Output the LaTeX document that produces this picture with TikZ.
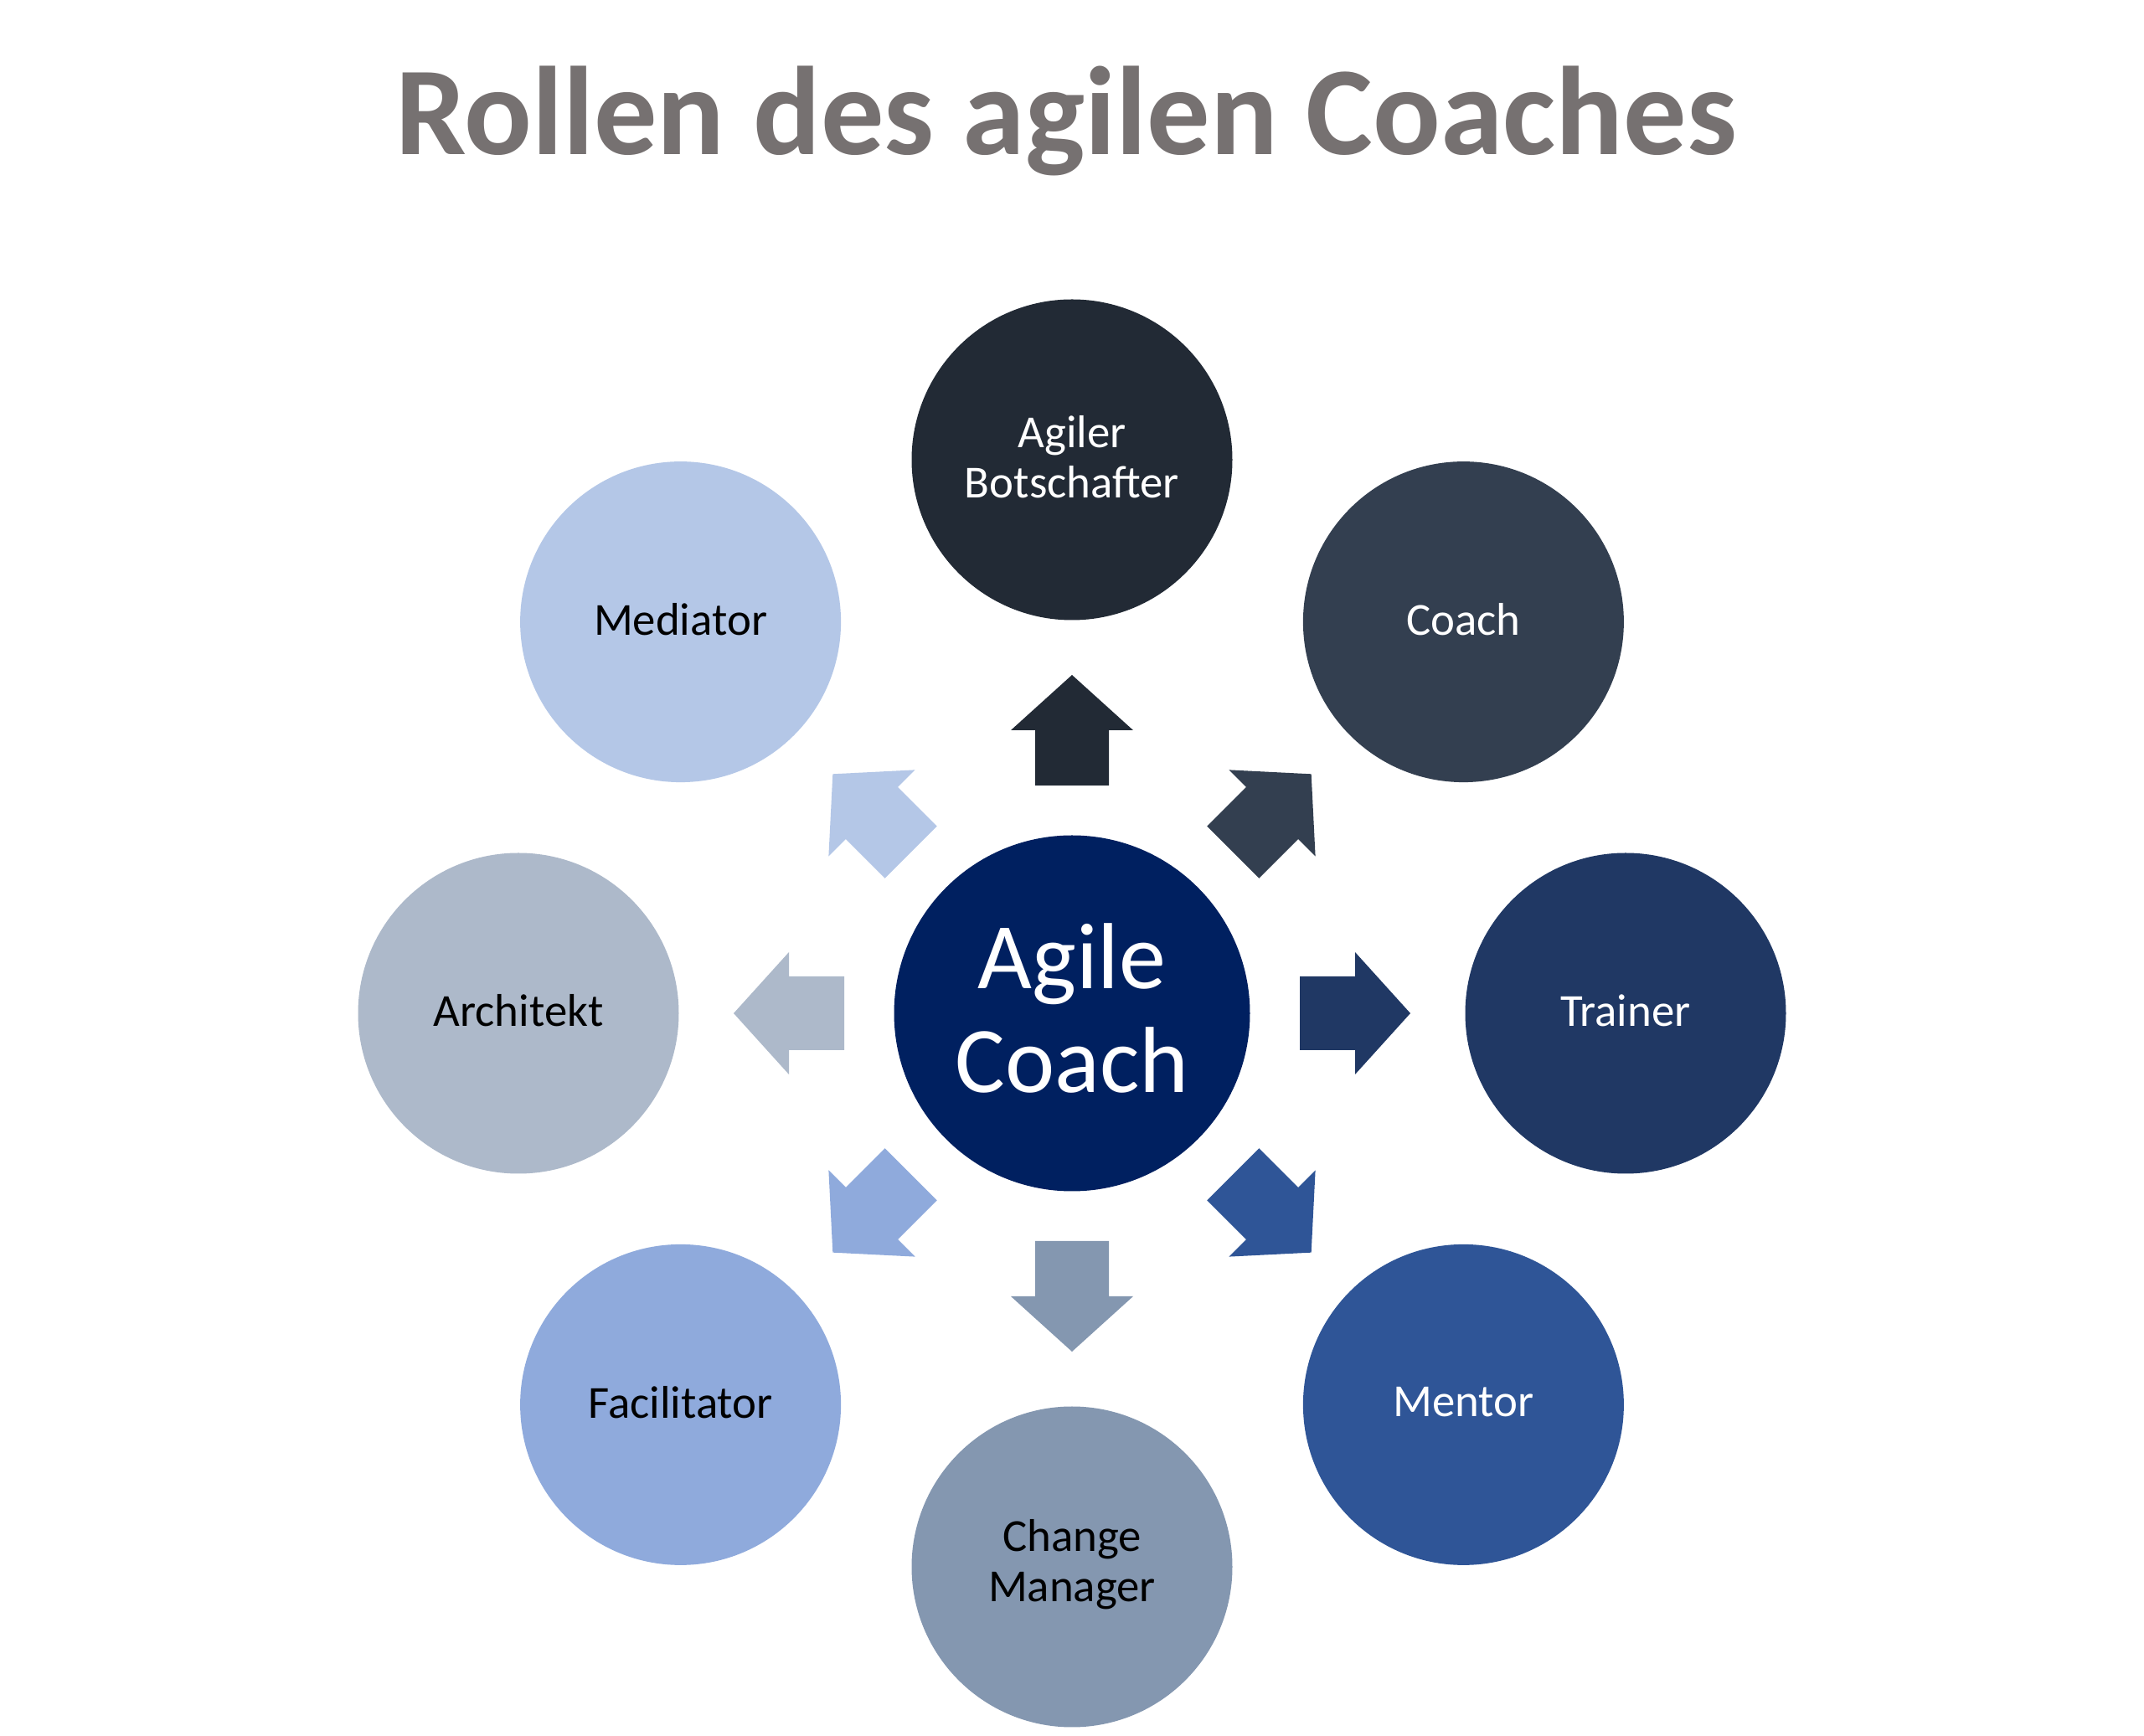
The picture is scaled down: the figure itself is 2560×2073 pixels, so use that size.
\documentclass[tikz,border=0pt]{standalone}
\usepackage{fontspec}
\setmainfont{Carlito}
\definecolor{cCenter}{HTML}{002060}
\definecolor{cBot}{HTML}{222A35}
\definecolor{cCoach}{HTML}{333F50}
\definecolor{cTrainer}{HTML}{203864}
\definecolor{cMentor}{HTML}{2F5597}
\definecolor{cChange}{HTML}{8497B0}
\definecolor{cFacil}{HTML}{8FAADC}
\definecolor{cArch}{HTML}{ADB9CA}
\definecolor{cMed}{HTML}{B4C7E7}
\definecolor{cTitle}{HTML}{767171}
\begin{document}
\begin{tikzpicture}[x=0.1mm,y=0.1mm,
  role/.style={circle,minimum size=38.3mm,inner sep=0pt,align=center,
    font=\fontsize{15.6pt}{17.1pt}\selectfont},
  hub/.style={circle,minimum size=42.5mm,inner sep=0pt,align=center,fill=cCenter,text=white,
    font=\fontsize{31.9pt}{35.3pt}\selectfont},
  titlestyle/.style={anchor=base,inner sep=0pt,text=cTitle,font=\fontsize{42.8pt}{48pt}\selectfont\bfseries}]
\useasboundingbox[fill=white] (0,0) rectangle (2560,2073);
\node[titlestyle] (title) at (1273,1888) {Rollen des agilen Coaches};
\node[hub] (hub) at (1280,863) {};
\node[inner sep=0pt,align=center,text=white,font=\fontsize{31.9pt}{35.3pt}\selectfont] (hublabel) at ([yshift=0.6mm]hub.center) {Agile\\Coach};
\foreach \a/\nm/\col/\tc/\lab in {
  90/bot/cBot/white/{Agiler\\Botschafter},
  45/coach/cCoach/white/{Coach},
  0/trainer/cTrainer/white/{Trainer},
  -45/mentor/cMentor/white/{Mentor},
  -90/change/cChange/black/{Change\\Manager},
  -135/facil/cFacil/black/{Facilitator},
  180/arch/cArch/black/{Architekt},
  135/med/cMed/black/{Mediator}}{
  \node[role,fill=\col] (\nm) at ([shift={(\a:661)}]hub.center) {};
  \node[inner sep=0pt,align=center,text=\tc,font=\fontsize{15.6pt}{17.1pt}\selectfont] (\nm-t) at ([yshift=0.3mm]\nm.center) {\lab};
  \fill[\col,shift={(hub.center)},rotate=\a]
    (272,-44) -- (338,-44) -- (338,-73) -- (404,0) -- (338,73) -- (338,44) -- (272,44) -- cycle;
}
\end{tikzpicture}
\end{document}
